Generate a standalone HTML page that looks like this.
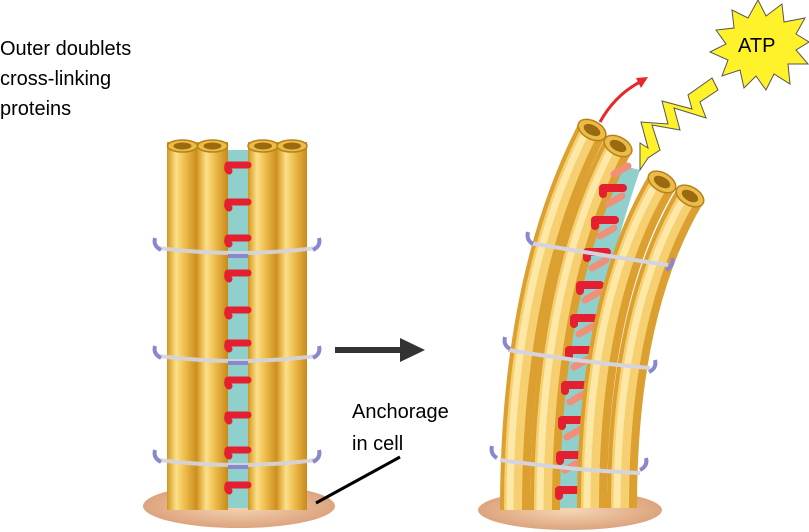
<!DOCTYPE html>
<html><head><meta charset="utf-8"><style>
html,body{margin:0;padding:0;background:#fff;}
svg{display:block;}
text{font-family:"Liberation Sans",sans-serif;}
</style></head><body>
<svg width="809" height="532" viewBox="0 0 809 532" xmlns="http://www.w3.org/2000/svg">
<defs>
<linearGradient id="tg" x1="0" x2="1" y1="0" y2="0">
<stop offset="0" stop-color="#d4961e"/><stop offset="0.3" stop-color="#fbe08a"/><stop offset="0.55" stop-color="#f0c050"/><stop offset="1" stop-color="#c8891a"/>
</linearGradient>
<radialGradient id="bg"><stop offset="0" stop-color="#f6d6b4"/><stop offset="1" stop-color="#dca47e"/></radialGradient>
</defs>

<text x="0" y="55" font-size="20">Outer doublets</text>
<text x="0" y="85" font-size="20">cross-linking</text>
<text x="0" y="115" font-size="20">proteins</text>

<!-- LEFT -->
<ellipse cx="239" cy="506" rx="96" ry="22" fill="url(#bg)"/>
<rect x="228" y="150" width="20" height="358" fill="#8fd0cc"/>
<g>
<rect x="167" y="142" width="31" height="368" fill="url(#tg)"/>
<rect x="197" y="142" width="31" height="368" fill="url(#tg)"/>
<rect x="248" y="142" width="30" height="368" fill="url(#tg)"/>
<rect x="277" y="142" width="30" height="368" fill="url(#tg)"/>
<g fill="#ecbc48" stroke="#b88218" stroke-width="1.5">
<ellipse cx="182.5" cy="146" rx="15" ry="6"/><ellipse cx="212.5" cy="146" rx="15" ry="6"/>
<ellipse cx="263" cy="146" rx="15" ry="6"/><ellipse cx="292" cy="146" rx="15" ry="6"/>
</g>
<g fill="#9a6a10"><ellipse cx="182.5" cy="146" rx="9" ry="3.5"/><ellipse cx="212.5" cy="146" rx="9" ry="3.5"/><ellipse cx="263" cy="146" rx="9" ry="3.5"/><ellipse cx="292" cy="146" rx="9" ry="3.5"/></g>
</g>
<g stroke="#e42030" stroke-width="7" fill="none" stroke-linecap="round">
<path d="M228 165 H248 M229 165 a4 4 0 0 0 0 6"/>
<path d="M228 202 H248 M229 202 a4 4 0 0 0 0 6"/>
<path d="M228 238 H248 M229 238 a4 4 0 0 0 0 6"/>
<path d="M228 273 H248 M229 273 a4 4 0 0 0 0 6"/>
<path d="M228 310 H248 M229 310 a4 4 0 0 0 0 6"/>
<path d="M228 343 H248 M229 343 a4 4 0 0 0 0 6"/>
<path d="M228 380 H248 M229 380 a4 4 0 0 0 0 6"/>
<path d="M228 415 H248 M229 415 a4 4 0 0 0 0 6"/>
<path d="M228 450 H248 M229 450 a4 4 0 0 0 0 6"/>
<path d="M228 485 H248 M229 485 a4 4 0 0 0 0 6"/>
</g>
<g fill="none" stroke-width="4">
<path d="M158 248 Q237 258 316 248" stroke="#d4d4e0" opacity="0.9"/>
<path d="M158 356 Q237 366 316 356" stroke="#d4d4e0" opacity="0.9"/>
<path d="M158 460 Q237 470 316 460" stroke="#d4d4e0" opacity="0.9"/>
<g stroke="#8a88cc"><path d="M155 238 q-2 8 6 12"/><path d="M319 238 q2 8 -6 12"/><path d="M155 346 q-2 8 6 12"/><path d="M319 346 q2 8 -6 12"/><path d="M155 450 q-2 8 6 12"/><path d="M319 450 q2 8 -6 12"/>
<path d="M228 256 H248 M228 363 H248 M228 467 H248"/></g>
</g>

<!-- arrow -->
<path d="M335 350 H410" stroke="#333" stroke-width="6"/>
<path d="M400 338 L425 350 L400 362 Z" fill="#333"/>
<text x="352" y="418" font-size="20">Anchorage</text>
<text x="352" y="450" font-size="20">in cell</text>
<path d="M316 503 L400 457" stroke="#000" stroke-width="3"/>

<!-- RIGHT -->
<ellipse cx="570" cy="510" rx="92" ry="20" fill="url(#bg)"/>
<path d="M560 508 Q555 330 620 165 L640 170 Q585 330 578 508 Z" fill="#8fd0cc"/>
<g fill="none" stroke-linecap="butt">
<path d="M515 510 Q515 280 592 130" stroke="#dca030" stroke-width="30"/>
<path d="M513 510 Q513 280 590 130" stroke="#f6d070" stroke-width="18"/>
<path d="M510 510 Q510 280 587 130" stroke="#fde8a8" stroke-width="7"/>
<path d="M545 510 Q545 285 618 146" stroke="#dca030" stroke-width="30"/>
<path d="M543 510 Q543 285 616 146" stroke="#f6d070" stroke-width="18"/>
<path d="M540 510 Q540 285 613 146" stroke="#fde8a8" stroke-width="7"/>
<g stroke="#f0907a" stroke-width="7" stroke-linecap="round">
<path d="M565 470 l14 -8"/><path d="M567 437 l14 -8"/><path d="M570 402 l14 -8"/><path d="M574 367 l14 -8"/><path d="M579 334 l14 -8"/><path d="M585 300 l14 -8"/><path d="M592 268 l14 -8"/><path d="M600 236 l14 -8"/><path d="M608 204 l14 -8"/><path d="M614 174 l14 -8"/>
</g>
<g stroke="#e42030" stroke-width="8" stroke-linecap="round">
<path d="M559 490 h20 M559 490 v6"/><path d="M560 455 h20 M560 455 v6"/><path d="M562 420 h20 M562 420 v6"/><path d="M565 385 h20 M565 385 v6"/><path d="M569 350 h20 M569 350 v6"/><path d="M574 318 h20 M574 318 v6"/><path d="M580 285 h20 M580 285 v6"/><path d="M587 252 h20 M587 252 v6"/><path d="M595 220 h20 M595 220 v6"/><path d="M603 188 h20 M603 188 v6"/>
</g>
<path d="M592 508 Q592 300 662 182" stroke="#dca030" stroke-width="30"/>
<path d="M590 508 Q590 300 660 182" stroke="#f6d070" stroke-width="18"/>
<path d="M587 508 Q587 300 657 182" stroke="#fde8a8" stroke-width="7"/>
<path d="M622 508 Q622 310 690 196" stroke="#dca030" stroke-width="30"/>
<path d="M620 508 Q620 310 688 196" stroke="#f6d070" stroke-width="18"/>
<path d="M617 508 Q617 310 685 196" stroke="#fde8a8" stroke-width="7"/>
</g>
<g fill="#ecbc48" stroke="#b88218" stroke-width="1.5">
<ellipse cx="592" cy="130" rx="15" ry="9" transform="rotate(28 592 130)"/>
<ellipse cx="618" cy="146" rx="15" ry="9" transform="rotate(28 618 146)"/>
<ellipse cx="662" cy="182" rx="15" ry="9" transform="rotate(30 662 182)"/>
<ellipse cx="690" cy="196" rx="15" ry="9" transform="rotate(30 690 196)"/>
</g>
<g fill="#9a6a10">
<ellipse cx="592" cy="130" rx="9" ry="5" transform="rotate(28 592 130)"/>
<ellipse cx="618" cy="146" rx="9" ry="5" transform="rotate(28 618 146)"/>
<ellipse cx="662" cy="182" rx="9" ry="5" transform="rotate(30 662 182)"/>
<ellipse cx="690" cy="196" rx="9" ry="5" transform="rotate(30 690 196)"/>
</g>
<g fill="none" stroke-width="4">
<path d="M530 243 Q600 255 668 265" stroke="#d4d4e0"/>
<path d="M508 350 Q580 362 650 368" stroke="#d4d4e0"/>
<path d="M500 460 Q570 470 640 473" stroke="#d4d4e0"/>
<g stroke="#8a88cc"><path d="M528 232 q-2 8 5 12"/><path d="M672 258 q2 8 -6 12"/><path d="M505 337 q-2 8 5 12"/><path d="M655 360 q2 8 -6 12"/><path d="M492 446 q-2 8 5 12"/><path d="M646 458 q2 8 -6 12"/></g>
</g>

<!-- red arrow -->
<path d="M600 122 Q615 95 640 82" fill="none" stroke="#e82828" stroke-width="3"/>
<path d="M648 77 L636 78 L641 88 Z" fill="#e82828"/>

<!-- lightning -->
<path d="M712 78 L718 90 L700 102 L706 118 L674 108 L680 130 L652 125 L660 150 L648 158 L640 170 L640 143 L648 148 L641 122 L668 124 L662 101 L692 109 L688 95 Z" fill="#fff22a" stroke="#555" stroke-width="1"/>
<!-- ATP star -->
<path d="M758 0 L766 16 L782 4 L784 22 L805 18 L796 34 L809 42 L796 50 L808 64 L788 64 L790 84 L774 74 L766 90 L756 76 L744 88 L740 70 L722 76 L728 60 L710 52 L726 44 L716 30 L734 28 L732 10 L748 18 Z" fill="#fff22a" stroke="#555" stroke-width="1"/>
<text x="738" y="52" font-size="20">ATP</text>
</svg>
</body></html>
